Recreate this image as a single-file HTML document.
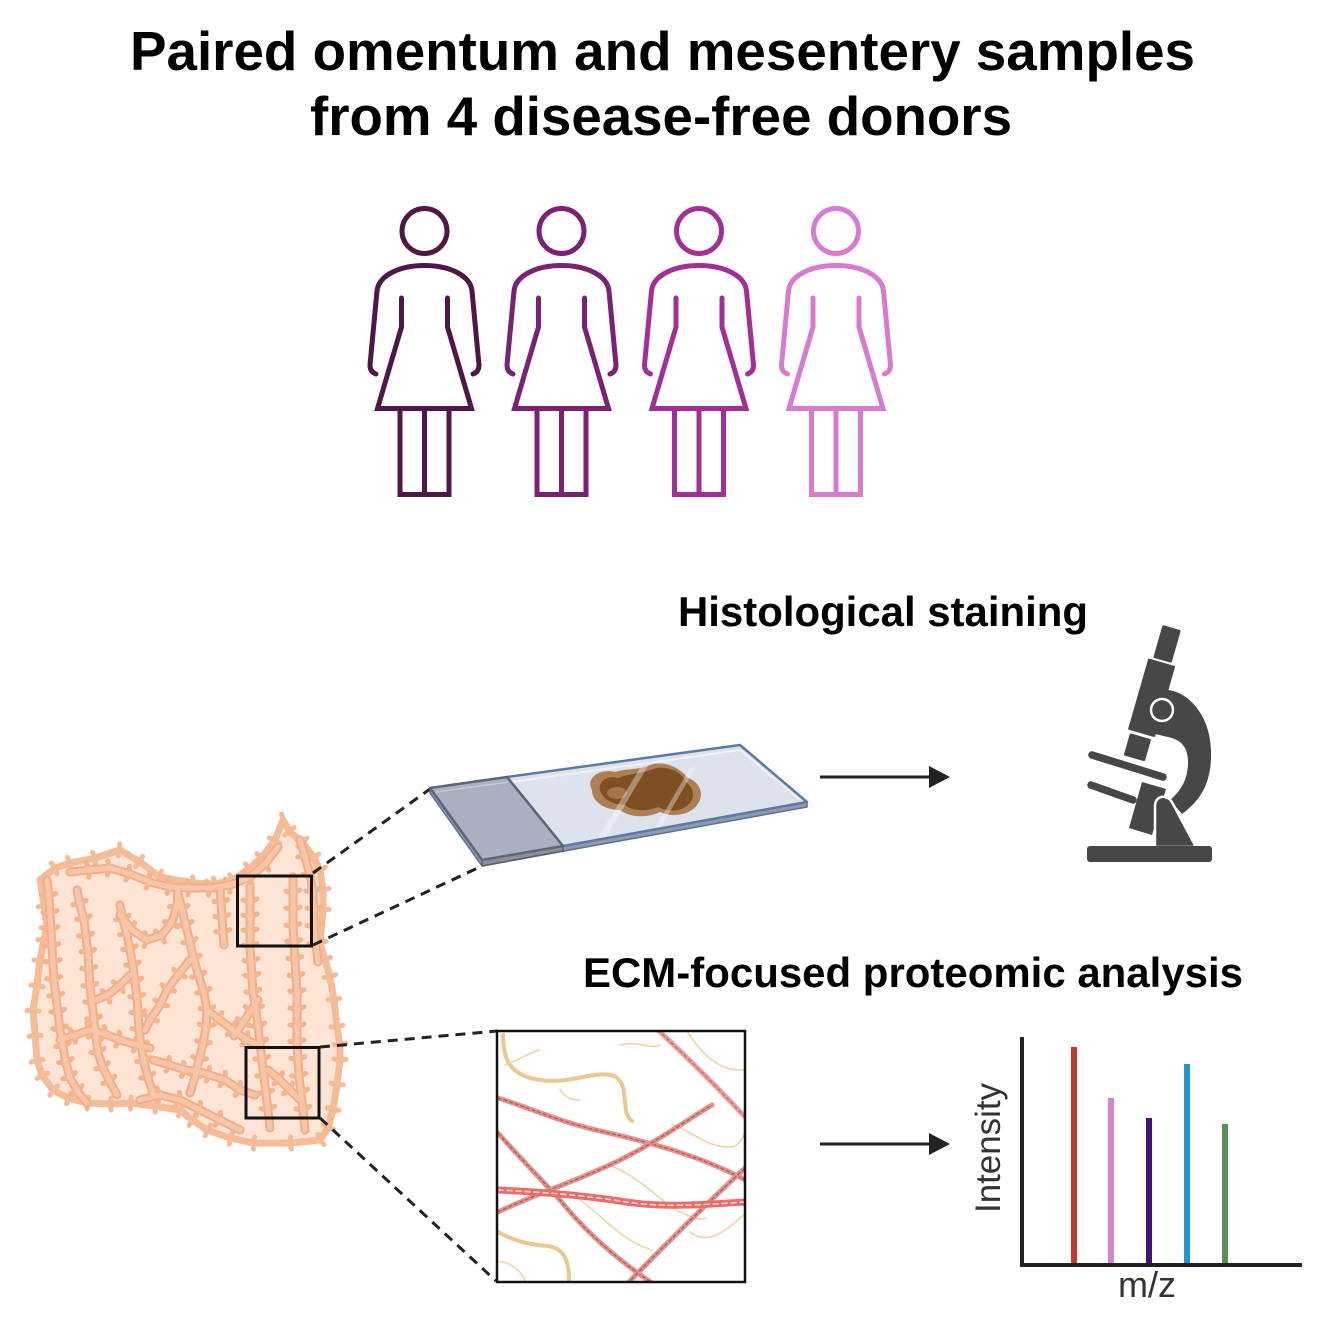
<!DOCTYPE html>
<html>
<head>
<meta charset="utf-8">
<style>
  html,body{margin:0;padding:0;background:#fff;}
  body{width:1324px;height:1338px;overflow:hidden;}
  svg{display:block;}
  text{font-family:"Liberation Sans", Arial, sans-serif;}
</style>
</head>
<body>
<svg width="1324" height="1338" viewBox="0 0 1324 1338" xmlns="http://www.w3.org/2000/svg">
  <defs>
    <marker id="tw" markerUnits="userSpaceOnUse" markerWidth="24" markerHeight="24" refX="12" refY="12" orient="auto" viewBox="0 0 24 24">
      <path d="M12,12 L9,5 M12,12 L10,19" stroke="#f3b48e" stroke-width="5" stroke-linecap="round" fill="none"/>
    </marker>
    <marker id="tw2" markerUnits="userSpaceOnUse" markerWidth="24" markerHeight="24" refX="12" refY="12" orient="auto" viewBox="0 0 24 24">
      <path d="M12,12 L11,6 M12,12 L11,18" stroke="#f4bb98" stroke-width="5" stroke-linecap="round" fill="none"/>
    </marker>
    <clipPath id="boxclip"><rect x="497" y="1031" width="248" height="251"/></clipPath>
    <g id="woman" fill="none" stroke-width="5" stroke-linecap="round" stroke-linejoin="round">
      <circle cx="0" cy="231" r="22.5"/>
      <path d="M-48.5,374 Q-54.5,372 -54.5,365 L-47.5,291 C-46,276 -26,265.5 0,265.5 C26,265.5 46,276 47.5,291 L54.5,365 Q54.5,372 48.5,374"/>
      <path d="M-23,298 L-23,327 L-47,408.5 L47,408.5 L23,327 L23,298" stroke-linejoin="miter"/>
      <path d="M-24.5,408.5 L-24.5,494.5 L24.5,494.5 L24.5,408.5 M0,408.5 L0,494.5" stroke-linejoin="miter" stroke-linecap="butt"/>
    </g>
    <g id="vessels" fill="none" stroke-linecap="round" stroke-linejoin="round">
      <polyline points="47,880 49,897 50,914 51,930 52,947 53,963 54,980 56,997 58,1013 60,1030 63,1047 66,1063 70,1078 78,1092 87,1103"/>
      <polyline points="77,890 80,905 84,920 86,937 88,953 89,970 90,987 92,1003 94,1020 96,1037 98,1053 103,1068 110,1082 117,1095"/>
      <polyline points="120,905 123,920 127,935 130,950 133,966 135,982 137,998 138,1014 139,1030 141,1046 144,1062 148,1078 153,1093"/>
      <polyline points="120,915 132,930 147,940 162,935 172,922 177,905 178,890"/>
      <polyline points="178,893 182,910 186,926 190,943 194,960 199,977 204,993 207,1010 206,1027 203,1044 199,1060 195,1077 190,1093"/>
      <polyline points="190,960 178,975 167,990 160,1005 150,1020 145,1030"/>
      <polyline points="220,888 221,903 222,918 223,933 224,945"/>
      <polyline points="250,887 250,902 250,917 250,932 250,947 251,962 252,977 253,993 256,1010 258,1027 260,1043 262,1060 264,1077 266,1094 268,1110 270,1128"/>
      <polyline points="258,1000 250,1012 242,1024 234,1036"/>
      <polyline points="293,877 293,893 293,910 293,927 294,943 295,960 296,977 297,993 297,1010 297,1027 297,1043 298,1060 299,1077 301,1093 303,1110 305,1130"/>
      <polyline points="300,840 305,857 310,875 313,892 314,910 314,927 316,945 318,962"/>
      <polyline points="60,1040 75,1035 90,1030 105,1034 120,1040 137,1045 150,1048"/>
      <polyline points="153,1060 170,1065 185,1070 200,1072 210,1075 225,1080 240,1090 255,1095"/>
      <polyline points="70,872 90,870 110,868 130,874 150,882 170,887 190,888 210,888 230,885 250,877 265,864 278,847"/>
      <polyline points="207,1010 220,1020 233,1030 247,1040 258,1045"/>
      <polyline points="268,1070 280,1080 290,1090 300,1100"/>
      <polyline points="95,1000 108,995 120,985 130,975"/>
      <polyline points="140,1100 160,1095 180,1100 200,1110 220,1120 240,1130"/>
    </g>
  </defs>

  <!-- Title -->
  <text x="130" y="70" font-size="54.7" font-weight="bold" fill="#000" textLength="1065" lengthAdjust="spacingAndGlyphs">Paired omentum and mesentery samples</text>
  <text x="310" y="135" font-size="54.7" font-weight="bold" fill="#000" textLength="702" lengthAdjust="spacingAndGlyphs">from 4 disease-free donors</text>

  <!-- Women -->
  <use href="#woman" x="424.5" y="0" stroke="#4f1648"/>
  <use href="#woman" x="561.5" y="0" stroke="#7b2172"/>
  <use href="#woman" x="699" y="0" stroke="#a32f96"/>
  <use href="#woman" x="836" y="0" stroke="#d77bd0"/>

  <!-- Section labels -->
  <text x="678" y="626" font-size="41.5" font-weight="bold" fill="#000" textLength="410" lengthAdjust="spacingAndGlyphs">Histological staining</text>
  <text x="583" y="987" font-size="42" font-weight="bold" fill="#000" textLength="660" lengthAdjust="spacingAndGlyphs">ECM-focused proteomic analysis</text>

  <!-- Omentum -->
  <g>
    <polygon points="40,880 55,868 70,863 95,858 120,850 140,862 160,877 193,883 215,884 233,880 250,868 262,857 275,840 283,820 290,832 303,843 314,858 320,870 323,890 323,910 320,943 325,960 330,977 334,1000 337,1027 340,1045 340,1060 337,1085 333,1110 328,1128 320,1140 290,1143 253,1143 230,1138 207,1130 192,1120 180,1110 155,1106 130,1103 110,1104 87,1103 68,1098 53,1090 42,1075 37,1060 35,1035 33,1010 37,985 40,960 44,940 47,927 44,905" fill="#fde4d4" stroke="#f5bc98" stroke-width="7" stroke-linejoin="round"/>
    <polyline points="40,880 55,868 70,863 95,858 120,850 140,862 160,877 193,883 215,884 233,880 250,868 262,857 275,840 283,820 290,832 303,843 314,858 320,870 323,890 323,910 320,943 325,960 330,977 334,1000 337,1027 340,1045 340,1060 337,1085 333,1110 328,1128 320,1140 290,1143 253,1143 230,1138 207,1130 192,1120 180,1110 155,1106 130,1103 110,1104 87,1103 68,1098 53,1090 42,1075 37,1060 35,1035 33,1010 37,985 40,960 44,940 47,927 44,905 40,880" fill="none" stroke="#f5bc98" stroke-width="5" stroke-linejoin="round" marker-mid="url(#tw2)"/>
    <use href="#vessels" stroke="#f1ae88" stroke-width="9" marker-mid="url(#tw)"/>
    <use href="#vessels" stroke="#f8c6a7" stroke-width="5" marker-mid="none"/>
    <rect x="237.5" y="876" width="74" height="70" fill="none" stroke="#111" stroke-width="3"/>
    <rect x="246" y="1047.5" width="73" height="70.5" fill="none" stroke="#111" stroke-width="3"/>
  </g>

  <!-- Dashed connectors -->
  <g stroke="#222" stroke-width="3" stroke-dasharray="10 7" fill="none">
    <line x1="313" y1="873" x2="430" y2="789"/>
    <line x1="313" y1="945" x2="482" y2="866"/>
    <line x1="320" y1="1047" x2="497" y2="1031"/>
    <line x1="320" y1="1118" x2="496" y2="1281"/>
  </g>

  <!-- Slide -->
  <g stroke-linejoin="round">
    <polygon points="430,788 482,860 807,802 807,807 482,866 430,793" fill="#8e9ab2" stroke="#5f6f8e" stroke-width="1.5"/>
    <polygon points="482,860 563,846 563,851 482,866" fill="#8d8f98" stroke="#5a5e6a" stroke-width="1.5"/>
    <polygon points="507,777 740,745 807,802 563,846" fill="#dde2ec" stroke="#5b7aa6" stroke-width="2.5"/>
    <polyline points="512,782 740,750 800,800" fill="none" stroke="#eef1f6" stroke-width="2"/>
    <path d="M592,790 C585,778 600,768 615,772 C628,768 640,770 650,765 C665,760 680,768 688,778 C700,782 705,795 697,805 C690,815 672,818 660,812 C648,818 630,818 620,810 C605,810 592,802 592,790 Z" fill="#ad7f55"/>
    <path d="M600,790 C598,781 608,775 618,778 C632,773 645,773 656,768 C668,766 682,772 686,782 C694,788 696,798 688,805 C680,812 668,812 658,807 C646,812 632,811 625,805 C612,805 602,798 600,790 Z" fill="#7e4f22"/>
    <ellipse cx="617" cy="793" rx="10" ry="6" fill="#a67448"/>
    <polygon points="598,838 640,768 648,766 606,837" fill="#ffffff" opacity="0.35"/>
    <polygon points="655,828 690,768 696,767 661,827" fill="#ffffff" opacity="0.35"/>
    <polygon points="430,788 507,777 563,846 482,860" fill="#a9b0c0" stroke="#5e6575" stroke-width="2.5"/>
    <polyline points="436,792 508,782" fill="none" stroke="#c4c9d6" stroke-width="1.5"/>
  </g>

  <!-- Arrows -->
  <g fill="#222" stroke="#222">
    <line x1="820" y1="777" x2="932" y2="777" stroke-width="3"/>
    <polygon points="929,766 950,777 929,788" stroke="none"/>
    <line x1="820" y1="1144" x2="932" y2="1144" stroke-width="3"/>
    <polygon points="929,1133 950,1144 929,1155" stroke="none"/>
  </g>

  <!-- Microscope -->
  <g fill="#474747">
    <path d="M1168,690 C1188,692 1210,715 1211,750 C1212,778 1204,798 1182,814 L1170,800 C1182,790 1188,778 1188,762 C1188,748 1182,740 1168,737 L1155,734 Z"/>
    <g transform="translate(1153,693) rotate(16)">
      <rect x="-9.5" y="-68" width="19" height="34" rx="1.5"/>
      <rect x="-14" y="-32" width="28" height="74" rx="1"/>
      <rect x="-11" y="45" width="22" height="23" rx="1.5"/>
    </g>
    <circle cx="1162" cy="710" r="11" stroke="#fff" stroke-width="2.5"/>
    <line x1="1092" y1="755" x2="1163" y2="777" stroke="#474747" stroke-width="7.5" stroke-linecap="round"/>
    <line x1="1091" y1="785" x2="1133" y2="800" stroke="#474747" stroke-width="7.5" stroke-linecap="round"/>
    <polygon points="1142,782 1166,789 1152,835 1129,828"/>
    <path d="M1155,847 L1155,806 C1155,799 1160,796 1165,797 C1169,798 1171,800 1173,804 L1196,847 Z" stroke="#fff" stroke-width="2.5"/>
    <rect x="1087" y="846" width="125" height="16" rx="3"/>
  </g>

  <!-- Collagen / ECM box -->
  <g clip-path="url(#boxclip)" fill="none" stroke-linecap="round">
    <path d="M503,1035 C503,1062 512,1076 540,1080 C570,1085 600,1068 616,1077 C630,1086 620,1113 632,1121" stroke="#ebc791" stroke-width="4"/>
    <path d="M498,1232 C512,1240 530,1245 548,1246 C562,1248 570,1258 569,1284" stroke="#ebc791" stroke-width="4"/>
    <g stroke="#f1d3a8" stroke-width="1.6">
      <path d="M688,1033 C700,1050 716,1072 745,1070"/>
      <path d="M672,1124 C690,1130 712,1152 735,1146 C745,1140 746,1128 745,1122"/>
      <path d="M612,1166 C640,1178 660,1200 676,1210 C690,1216 700,1222 706,1218"/>
      <path d="M580,1200 C602,1215 620,1240 652,1250"/>
      <path d="M690,1232 C710,1248 730,1226 745,1214"/>
      <path d="M505,1065 C520,1060 530,1052 540,1050"/>
      <path d="M560,1090 C566,1098 572,1100 580,1100"/>
      <path d="M620,1045 C640,1040 650,1050 660,1045"/>
      <path d="M500,1262 C510,1262 520,1270 525,1280"/>
    </g>
    <g>
      <path d="M498,1098 C530,1108 560,1122 600,1131 C640,1140 700,1155 745,1180" stroke="#e39288" stroke-width="5"/>
      <path d="M498,1098 C530,1108 560,1122 600,1131 C640,1140 700,1155 745,1180" stroke="#b55762" stroke-width="1.3" stroke-dasharray="3 3"/>
      <path d="M498,1133 C520,1158 540,1178 560,1200 C580,1225 610,1255 655,1285" stroke="#e39288" stroke-width="5"/>
      <path d="M498,1133 C520,1158 540,1178 560,1200 C580,1225 610,1255 655,1285" stroke="#b55762" stroke-width="1.3" stroke-dasharray="3 3"/>
      <path d="M498,1212 C540,1192 580,1180 620,1160 C660,1140 690,1118 712,1105" stroke="#e39288" stroke-width="5"/>
      <path d="M498,1212 C540,1192 580,1180 620,1160 C660,1140 690,1118 712,1105" stroke="#b55762" stroke-width="1.3" stroke-dasharray="3 3"/>
      <path d="M658,1030 C690,1060 720,1090 745,1117" stroke="#ef9e9c" stroke-width="5"/>
      <path d="M658,1030 C690,1060 720,1090 745,1117" stroke="#c96872" stroke-width="1.3" stroke-dasharray="3 3"/>
      <path d="M627,1284 C660,1250 700,1210 745,1168" stroke="#e39288" stroke-width="5"/>
      <path d="M627,1284 C660,1250 700,1210 745,1168" stroke="#b55762" stroke-width="1.3" stroke-dasharray="3 3"/>
      <path d="M498,1190 C540,1192 580,1195 620,1201 C660,1208 700,1205 745,1202" stroke="#ec6a6a" stroke-width="7"/>
      <path d="M498,1190 C540,1192 580,1195 620,1201 C660,1208 700,1205 745,1202" stroke="#ffd9d2" stroke-width="1.6" stroke-dasharray="5 4"/>
    </g>
  </g>
  <rect x="497" y="1031" width="248" height="251" fill="none" stroke="#111" stroke-width="2.5"/>

  <!-- Mass spectrum -->
  <g>
    <rect x="1071" y="1047" width="6" height="217" fill="#c1392f"/>
    <rect x="1108" y="1098" width="6" height="166" fill="#d386cd"/>
    <rect x="1146" y="1118" width="6" height="146" fill="#4a1070"/>
    <rect x="1184" y="1064" width="6" height="200" fill="#1f95cf"/>
    <rect x="1222" y="1124" width="6" height="140" fill="#5b8d56"/>
    <polyline points="1022,1037 1022,1265 1302,1265" fill="none" stroke="#222" stroke-width="4"/>
    <text x="0" y="0" font-size="35" fill="#333" text-anchor="middle" transform="translate(1000,1148) rotate(-90)" textLength="130" lengthAdjust="spacingAndGlyphs">Intensity</text>
    <text x="1147" y="1297" font-size="36" fill="#333" text-anchor="middle">m/z</text>
  </g>
</svg>
</body>
</html>
